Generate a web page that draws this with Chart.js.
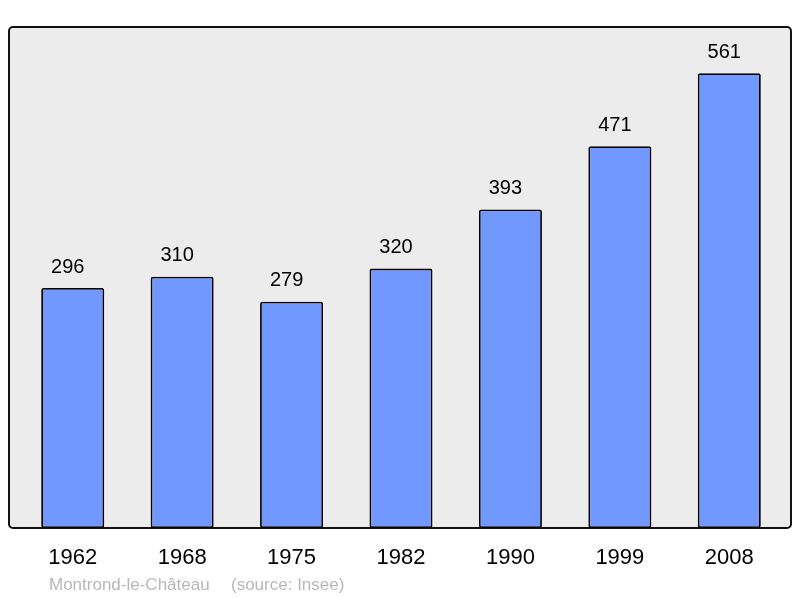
<!DOCTYPE html>
<html>
<head>
<meta charset="utf-8">
<script src="https://cdn.jsdelivr.net/npm/chart.js@4"></script>
<style>
  html, body { margin: 0; padding: 0; background: #fff; }
  #wrap { width: 800px; height: 598px; }
</style>
</head>
<body>
<div id="wrap"><canvas id="popChart"></canvas></div>
<script>
const years = ["1962", "1968", "1975", "1982", "1990", "1999", "2008"];
const population = [296, 310, 279, 320, 393, 471, 561];
const placeName = "Montrond-le-Château";
const sourceText = "(source: Insee)";

// grey panel with rounded black frame, behind the bars
const panelPlugin = {
    id: "panel",
    beforeDraw(chart) {
        const ctx = chart.ctx;
        const a = chart.chartArea;
        const x = a.left - 9, y = a.top, w = a.right - a.left + 16, h = a.bottom - a.top;
        ctx.save();
        ctx.fillStyle = "#ececec";
        ctx.strokeStyle = "#111";
        ctx.lineWidth = 2;
        ctx.beginPath();
        ctx.roundRect(x, y, w, h, 4);
        ctx.fill();
        ctx.stroke();
        ctx.restore();
    }
};

// value labels, year labels and source line
const labelPlugin = {
    id: "labels",
    afterDatasetsDraw(chart) {
        const ctx = chart.ctx;
        const xs = chart.scales.x;
        const ys = chart.scales.y;
        const bottom = chart.chartArea.bottom;
        ctx.save();
        ctx.fillStyle = "#000";
        ctx.textAlign = "center";
        ctx.textBaseline = "middle";
        ctx.font = "20px 'Liberation Sans', Arial, sans-serif";
        population.forEach((v, i) => {
            ctx.fillText(String(v), xs.getPixelForValue(i) - 5, ys.getPixelForValue(v) - 21);
        });
        ctx.font = "22px 'Liberation Sans', Arial, sans-serif";
        years.forEach((yr, i) => {
            ctx.fillText(yr, xs.getPixelForValue(i), bottom + 30);
        });
        ctx.textAlign = "left";
        ctx.fillStyle = "#b8b8b8";
        ctx.font = "17px 'Liberation Sans', Arial, sans-serif";
        ctx.fillText(placeName, 49, bottom + 57);
        ctx.fillText(sourceText, 231, bottom + 57);
        ctx.restore();
    }
};

new Chart(document.getElementById("popChart").getContext("2d"), {
    type: "bar",
    data: {
        labels: years,
        datasets: [{
            data: population,
            backgroundColor: "#7098ff",
            borderColor: "#000",
            borderWidth: 1.8,
            borderRadius: 2,
            borderSkipped: false,
            barPercentage: 0.576,
            categoryPercentage: 1
        }]
    },
    options: {
        responsive: true,
        maintainAspectRatio: false,
        animation: false,
        layout: { padding: { top: 27, left: 18, right: 16, bottom: 70 } },
        plugins: {
            legend: { display: false },
            tooltip: { enabled: false }
        },
        scales: {
            x: { display: false },
            y: { display: false, min: 0, max: 618 }
        }
    },
    plugins: [panelPlugin, labelPlugin]
});
</script>
</body>
</html>
